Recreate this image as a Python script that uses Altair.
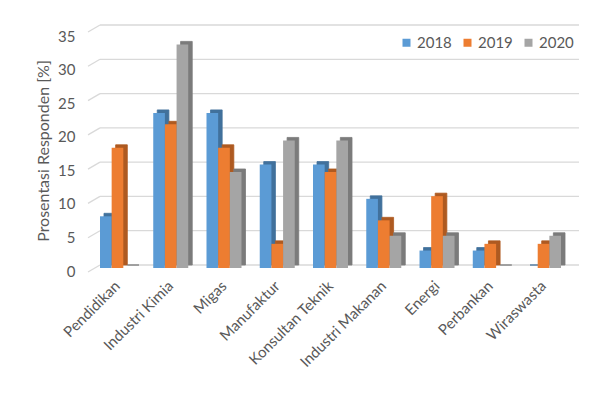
import altair as alt
import pandas as pd

categories = ["Pendidikan", "Industri Kimia", "Migas", "Manufaktur", "Konsultan Teknik",
              "Industri Makanan", "Energi", "Perbankan", "Wiraswasta"]
years = ["2018", "2019", "2020"]
v2018 = [7.7, 23.1, 23.1, 15.4, 15.4, 10.3, 2.6, 2.6, 0.0]
v2019 = [17.9, 21.4, 17.9, 3.6, 14.3, 7.1, 10.7, 3.6, 3.6]
v2020 = [0.0, 33.3, 14.3, 19.0, 19.0, 4.8, 4.8, 0.0, 4.8]
y_ticks = [0, 5, 10, 15, 20, 25, 30, 35]

front_colors = ["#5B9BD5", "#ED7D31", "#A5A5A5"]
side_colors = ["#41719C", "#AE5A21", "#7B7B7B"]

rows = []
for y, vals, dark in zip(years, [v2018, v2019, v2020], side_colors):
    for c, v in zip(categories, vals):
        rows.append({"cat": c, "year": y, "val": v, "dark": dark})
df = pd.DataFrame(rows)
grid_df = pd.DataFrame({"g": y_ticks})

FONT = "Lato"
TXT = "#595959"
W, H = 485, 235
DEPTH = 4
GROUP = 35  # band width of one category group in px

x_enc = alt.X("cat:N", sort=categories,
              scale=alt.Scale(paddingInner=0.343, paddingOuter=0.225),
              axis=alt.Axis(title=None, labelAngle=-45, labelAlign="right",
                            labelBaseline="middle", labelPadding=15, domain=False,
                            ticks=False, labelFontSize=15, labelColor=TXT, labelFont=FONT))
y_scale = alt.Scale(domain=[0, 35], nice=False)

grid_scale = alt.Scale(domain=[0, 35], range=[232, -8], nice=False)

grid = alt.Chart(grid_df).mark_rule(color="#D9D9D9", strokeWidth=1.3).encode(
    y=alt.Y("g:Q", scale=grid_scale, axis=None),
    x=alt.value(12), x2=alt.value(491),
)
diag = alt.Chart(grid_df).mark_rule(color="#D9D9D9", strokeWidth=1.3, y2Offset=7).encode(
    y=alt.Y("g:Q", scale=grid_scale, axis=None),
    y2=alt.Y2("g:Q"),
    x=alt.value(12), x2=alt.value(0),
)

shadow = alt.Chart(df).mark_bar(yOffset=-3, strokeWidth=0.8).encode(
    x=x_enc,
    xOffset=alt.XOffset("year:N", sort=years,
                        scale=alt.Scale(range=[DEPTH, DEPTH + GROUP])),
    y=alt.Y("val:Q", scale=y_scale, axis=None),
    color=alt.Color("dark:N", scale=None),
    stroke=alt.Stroke("dark:N", scale=None),
)

front = alt.Chart(df).mark_bar().encode(
    x=x_enc,
    xOffset=alt.XOffset("year:N", sort=years, scale=alt.Scale(range=[0, GROUP])),
    y=alt.Y("val:Q", scale=y_scale,
            axis=alt.Axis(title="Prosentasi Responden [%]", orient="left", values=y_ticks,
                          grid=False, domain=False, ticks=False, labelPadding=13,
                          labelOffset=3, labelFontSize=15, labelColor=TXT, labelFont=FONT,
                          titleFontSize=16, titleColor=TXT, titleFont=FONT,
                          titleFontWeight="normal", titlePadding=6)),
    color=alt.Color("year:N", sort=years,
                    scale=alt.Scale(domain=years, range=front_colors),
                    legend=alt.Legend(title=None, orient="none", legendX=311, legendY=2,
                                      direction="horizontal", symbolType="square",
                                      symbolSize=64, symbolStrokeWidth=0, labelFontSize=15,
                                      labelColor=TXT, labelFont=FONT, columnPadding=8,
                                      labelOffset=3, padding=0)),
)

chart = alt.layer(grid, diag, shadow, front).resolve_scale(
    y="independent", xOffset="independent"
).properties(
    width=W, height=H,
    autosize=alt.AutoSizeParams(type="none"),
    padding={"left": 80, "top": 25, "right": 29, "bottom": 117},
    background="white",
).configure_view(stroke=None)

chart.save("out.html", embed_options={"renderer": "svg", "actions": False})
